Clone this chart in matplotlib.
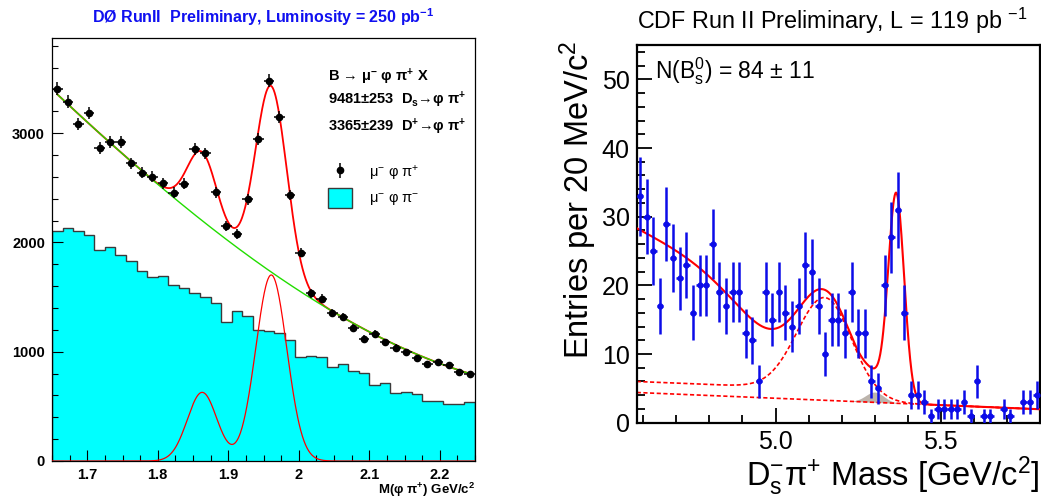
import math
import numpy as np
import matplotlib
matplotlib.use('Agg')
import matplotlib.pyplot as plt
from matplotlib.patches import Patch
from matplotlib.ticker import MultipleLocator, FormatStrFormatter

plt.rcParams['font.family'] = ['Liberation Sans', 'DejaVu Sans']
plt.rcParams['mathtext.fontset'] = 'custom'
plt.rcParams['mathtext.rm'] = 'Liberation Sans'
plt.rcParams['mathtext.default'] = 'regular'

# ---------------- D0 panel: M(phi pi+), 40 bins of 15 MeV ----------------
d0_lo, d0_hi, d0_nbins = 1.65, 2.25, 40
d0_right_sign = [3406, 3287, 3080, 3181, 2866, 2921, 2921, 2724, 2638, 2601,
                 2541, 2455, 2537, 2857, 2815, 2458, 2153, 2074, 2394, 2943,
                 3479, 3144, 2434, 1906, 1534, 1485, 1351, 1320, 1214, 1116,
                 1162, 1086, 1037, 997, 940, 888, 903, 878, 817, 796]
d0_wrong_sign = [2107, 2129, 2107, 2068, 1930, 1955, 1885, 1827, 1741, 1686,
                 1693, 1610, 1580, 1540, 1498, 1449, 1272, 1375, 1327, 1199,
                 1189, 1171, 1107, 949, 961, 955, 860, 884, 823, 802,
                 695, 716, 619, 634, 610, 552, 552, 521, 519, 537]
# readings of the green background fit line
d0_bkg_x = [1.657, 1.763, 1.806, 1.877, 1.959, 2.018, 2.049, 2.2425]
d0_bkg_y = [3364, 2708, 2510, 2160, 1711, 1490, 1366, 800]
# gaussian peaks: mean, sigma, height
d0_dplus = (1.863, 0.021, 628)
d0_ds = (1.961, 0.022, 1702)

# ---------------- CDF panel: Ds pi mass, 61 bins of 20 MeV ----------------
cdf_lo, cdf_hi, cdf_nbins = 4.58, 5.80, 61
cdf_counts = [33, 30, 25, 17, 29, 24, 21, 23, 16, 20, 20, 26, 19, 17, 19, 19,
              13, 12, 6, 19, 15, 19, 16, 14, 17, 23, 22, 17, 10, 15, 15, 13,
              19, 13, 13, 6, 5, 20, 27, 31, 16, 4, 4, 3, 1, 2, 2, 2, 2, 3,
              1, 6, 1, 1, 0, 2, 1, 0, 3, 3, 4]
cdf_bkg = (4.4, -2.0)                 # value at 4.58, slope per GeV
cdf_refl = (13.5, 5.15, 0.085, 0.082, 1.6, 5.22, 0.03)  # h, mean, sl, sr, shelf, edge, w
cdf_low = (22.4, 1.0, 4.96, 0.14)     # height, slope, edge, width
cdf_bs = (30.1, 5.365, 0.024)         # height, mean, sigma
cdf_dsk = (1.5, 5.30, 0.028)          # height, mean, sigma


def gaus(x, mean, sigma, height):
    return height * np.exp(-0.5 * ((x - mean) / sigma) ** 2)


fig = plt.figure(figsize=(10.41, 5.0), dpi=100)

# ======================= left panel =======================
ax1 = fig.add_axes([52 / 1041, 39 / 500, 423 / 1041, 423 / 500])
edges = np.linspace(d0_lo, d0_hi, d0_nbins + 1)
centers = 0.5 * (edges[:-1] + edges[1:])
rs = np.array(d0_right_sign, dtype=float)
ws = np.array(d0_wrong_sign, dtype=float)

ax1.stairs(ws, edges, fill=True, color='#00ffff', zorder=1)
ax1.stairs(ws, edges, color='#3a3a3a', lw=1.0, zorder=2)

xf = np.linspace(centers[0], centers[-1], 800)
coef = np.polyfit(np.array(d0_bkg_x) - d0_lo, d0_bkg_y, 3)
bkg = np.polyval(coef, xf - d0_lo)
peaks = gaus(xf, *d0_dplus) + gaus(xf, *d0_ds)
xfull = np.linspace(d0_lo, d0_hi, 800)
ax1.plot(xfull, gaus(xfull, *d0_dplus) + gaus(xfull, *d0_ds), color='red', lw=0.9, zorder=3)
ax1.plot(xf, bkg + peaks, color='red', lw=1.3, zorder=3)
ax1.plot(xf, bkg, color='#22dd00', lw=1.0, zorder=4)

ax1.errorbar(centers, rs, xerr=0.0075, yerr=np.sqrt(rs), fmt='o', color='black',
             ms=4.5, elinewidth=1.1, capsize=0, zorder=5)

h_pts = ax1.errorbar([np.nan], [np.nan], yerr=[1.0], fmt='o', color='black',
                     ms=4.5, elinewidth=1.1, capsize=0)
h_ws = Patch(facecolor='#00ffff', edgecolor='#3a3a3a', lw=1.0)
ax1.legend([h_pts, h_ws], [u'\u03bc$^{-}$ \u03c6 \u03c0$^{+}$', u'\u03bc$^{-}$ \u03c6 \u03c0$^{-}$'],
           loc='upper left', bbox_to_anchor=(0.652, 0.705), frameon=False,
           fontsize=10.5, handlelength=1.65, handleheight=1.8, handletextpad=1.2,
           labelspacing=0.3, borderpad=0, borderaxespad=0)

ax1.text(0.6525, 0.908, u'B \u2192 \u03bc$^{-}$ \u03c6 \u03c0$^{+}$ X', transform=ax1.transAxes,
         fontsize=10.5, fontweight='bold', va='center')
ax1.text(0.6525, 0.853, u'9481\u00b1253  D$_{s}$\u2192\u03c6 \u03c0$^{+}$', transform=ax1.transAxes,
         fontsize=10.5, fontweight='bold', va='center')
ax1.text(0.6525, 0.790, u'3365\u00b1239  D$^{+}$\u2192\u03c6 \u03c0$^{+}$', transform=ax1.transAxes,
         fontsize=10.5, fontweight='bold', va='center')
ax1.text(1.0, -0.069, u'M(\u03c6 \u03c0$^{+}$) GeV/c$^{2}$', transform=ax1.transAxes,
         fontsize=9.5, fontweight='bold', ha='right', va='center')
fig.text(263.5 / 1041, 1 - 17 / 500, u'D\u00d8 RunII  Preliminary, Luminosity = 250 pb$^{-1}$',
         color='#1010f0', fontsize=11.5, fontweight='bold', ha='center', va='center')

ax1.set_xlim(d0_lo, d0_hi)
ax1.set_ylim(0, 3870)
ax1.xaxis.set_major_locator(MultipleLocator(0.1))
ax1.xaxis.set_minor_locator(MultipleLocator(0.025))
ax1.xaxis.set_major_formatter(FormatStrFormatter('%g'))
ax1.yaxis.set_major_locator(MultipleLocator(1000))
ax1.yaxis.set_minor_locator(MultipleLocator(200))
ax1.tick_params(which='both', direction='in', top=False, right=False, labelsize=10.5, width=0.8)
ax1.tick_params(which='major', length=8, pad=5)
ax1.tick_params(which='minor', length=4)
for lab in ax1.get_xticklabels() + ax1.get_yticklabels():
    lab.set_fontweight('bold')
for s in ax1.spines.values():
    s.set_linewidth(0.9)

# ======================= right panel =======================
ax2 = fig.add_axes([636.7 / 1041, 77.3 / 500, 403.3 / 1041, 377.7 / 500])
e2 = np.linspace(cdf_lo, cdf_hi, cdf_nbins + 1)
c2 = 0.5 * (e2[:-1] + e2[1:])
n2 = np.array(cdf_counts, dtype=float)

x2 = np.linspace(cdf_lo, cdf_hi, 1200)
b2 = cdf_bkg[0] + cdf_bkg[1] * (x2 - cdf_lo)
h, m, sl, sr, shelf, edge, w = cdf_refl
sig = np.where(x2 < m, sl, sr)
refl = h * np.exp(-0.5 * ((x2 - m) / sig) ** 2) + shelf / (1 + np.exp((x2 - edge) / w))
lh, lk, lx0, lw_ = cdf_low
low = lh * np.exp(-lk * (x2 - cdf_lo)) * 0.5 * np.array(
    [math.erfc((v - lx0) / (lw_ * math.sqrt(2))) for v in x2])
bs = gaus(x2, cdf_bs[1], cdf_bs[2], cdf_bs[0])
dsk = gaus(x2, cdf_dsk[1], cdf_dsk[2], cdf_dsk[0])
total = b2 + refl + low + bs + dsk

ax2.fill_between(x2, b2, b2 + dsk, where=dsk > 0.03, color='#bcb4ac', lw=0, zorder=1)
ax2.plot(x2, b2, color='red', lw=1.2, ls=(0, (2.5, 1.5)), zorder=2)
ax2.plot(x2, b2 + refl, color='red', lw=1.2, ls=(0, (2.5, 1.5)), zorder=2)
ax2.plot(x2, total, color='red', lw=1.5, zorder=3)
ok = n2 > 0
ax2.errorbar(c2[ok], n2[ok], xerr=0.01, yerr=np.sqrt(n2[ok]), fmt='o', color='#0c0ce8',
             ms=3.5, elinewidth=1.8, capsize=0, zorder=4)

ax2.set_xlim(cdf_lo, cdf_hi)
ax2.set_ylim(0, 55)
ax2.xaxis.set_major_locator(MultipleLocator(0.5))
ax2.xaxis.set_minor_locator(MultipleLocator(0.1))
ax2.xaxis.set_major_formatter(FormatStrFormatter('%.1f'))
ax2.yaxis.set_major_locator(MultipleLocator(10))
ax2.yaxis.set_minor_locator(MultipleLocator(2))
ax2.tick_params(which='both', direction='in', top=False, right=False, labelsize=18, width=1.3)
ax2.tick_params(which='major', length=11, pad=5)
ax2.tick_params(which='minor', length=6)
for s in ax2.spines.values():
    s.set_linewidth(1.6)

ax2.text(0.045, 0.931, 'N(B$_{s}^{0}$) = 84 $\\pm$ 11', transform=ax2.transAxes,
         fontsize=16.5, va='center')
ax2.text(-0.1455, 1.013, 'Entries per 20 MeV/c$^{2}$', transform=ax2.transAxes,
         rotation=90, fontsize=23.5, ha='center', va='top')
ax2.text(1.0, -0.141, 'D$_{s}^{-}$\u03c0$^{+}$ Mass [GeV/c$^{2}$]', transform=ax2.transAxes,
         fontsize=23.5, ha='right', va='center')
fig.text(637 / 1041, 1 - 21 / 500, 'CDF Run II Preliminary, L = 119 pb $^{-1}$',
         fontsize=16.8, ha='left', va='center')

fig.savefig('out.png', dpi=100)
